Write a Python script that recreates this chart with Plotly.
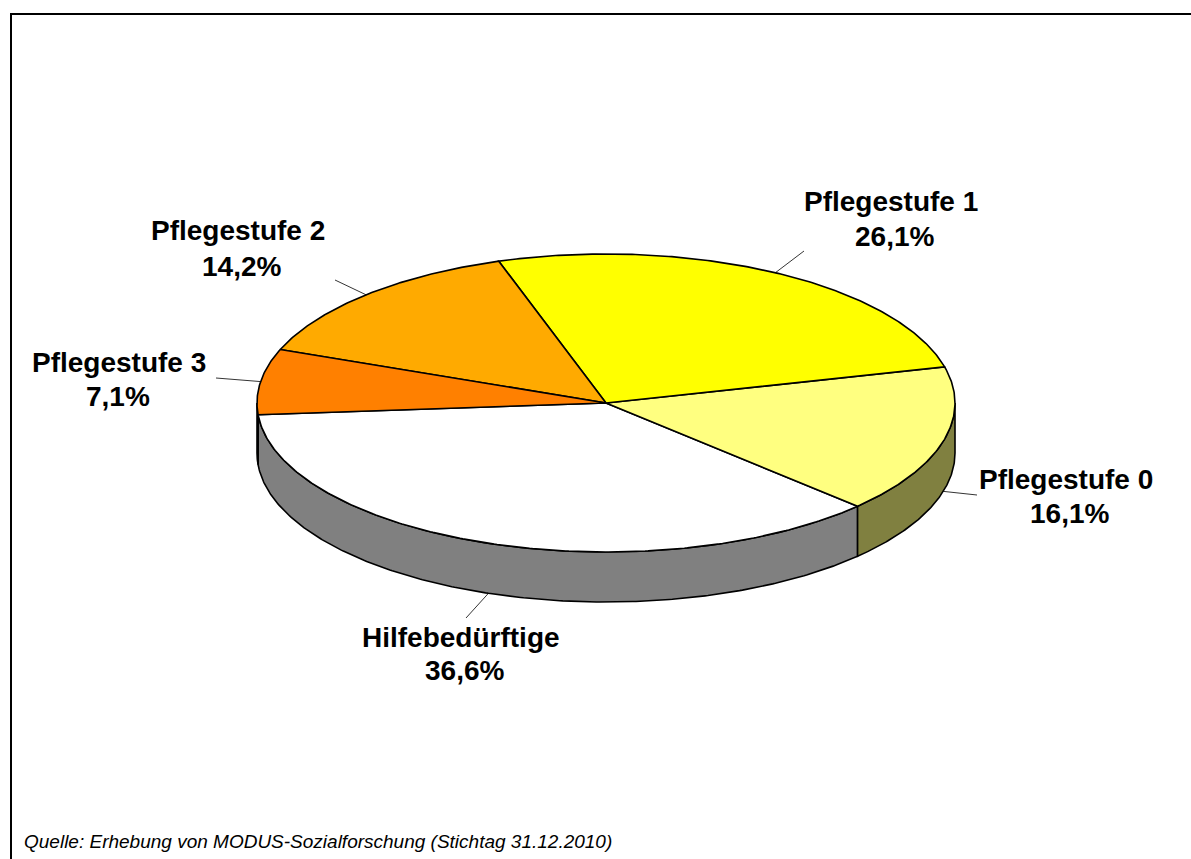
import numpy as np
import plotly.graph_objects as go

# Share of care levels, in the order they run round the pie
categories = ["Hilfebedürftige", "Pflegestufe 0", "Pflegestufe 1", "Pflegestufe 2", "Pflegestufe 3"]
shares = [36.6, 16.1, 26.1, 14.2, 7.1]
top_colors = ["#FFFFFF", "#FFFF80", "#FFFF00", "#FFAA00", "#FF8000"]
wall_colors = ["#808080", "#808040", "#808000", "#805500", "#804000"]
source_note = "Quelle: Erhebung von MODUS-Sozialforschung (Stichtag 31.12.2010)"

# Pie geometry on a pixel-scaled canvas
WIDTH, HEIGHT = 1191, 859
CX, CY, RX, RY, DEPTH = 606, 403, 349, 149, 50
START_DEG = 184.5

# Where each label's two text lines sit and where its leader line ends
name_pos = [(461, 637), (1065.5, 479), (890.5, 201), (237.5, 230), (118.5, 362)]
pct_pos = [(464, 670), (1069, 513), (894, 236), (241, 266), (118, 396)]
leader_end = [(466, 618), (977, 495), (804, 251), (335, 280), (216, 378)]


def rim(deg, drop=0.0):
    t = np.radians(deg)
    return CX + RX * np.cos(t), CY - RY * np.sin(t) + drop


def arc(a, b, drop=0.0):
    n = max(int(abs(b - a) * 2), 2)
    return rim(np.linspace(a, b, n), drop)


fractions = np.array(shares) / sum(shares)
edges = START_DEG + np.concatenate([[0], np.cumsum(fractions)]) * 360.0

fig = go.Figure()


def polygon(xs, ys, color):
    fig.add_trace(go.Scatter(
        x=xs, y=ys, mode="lines", fill="toself", fillcolor=color,
        line=dict(color="black", width=1.6), hoverinfo="skip", showlegend=False,
    ))


# Outer wall: only the part of each slice facing the viewer (180..360 degrees)
for i in range(len(shares)):
    for offset in (0, 360):
        a = max(edges[i], 180 + offset)
        b = min(edges[i + 1], 360 + offset)
        if b > a:
            tx, ty = arc(a, b)
            bx, by = arc(b, a, DEPTH)
            polygon(np.r_[tx, bx, tx[0]], np.r_[ty, by, ty[0]], wall_colors[i])

# Top face
for i in range(len(shares)):
    ax, ay = arc(edges[i], edges[i + 1])
    polygon(np.r_[CX, ax, CX], np.r_[CY, ay, CY], top_colors[i])

# Leader lines from the middle of each slice's outer edge
for i, end in enumerate(leader_end):
    mid = (edges[i] + edges[i + 1]) / 2
    front = np.sin(np.radians(mid)) < 0
    x0, y0 = rim(mid, DEPTH if front else 0)
    fig.add_trace(go.Scatter(
        x=[x0, end[0]], y=[y0, end[1]], mode="lines",
        line=dict(color="black", width=0.8), hoverinfo="skip", showlegend=False,
    ))

annotations = []
label_font = dict(family="Liberation Sans", size=28, color="black")
for name, share, np_, pp in zip(categories, shares, name_pos, pct_pos):
    pct = f"{share:.1f}".replace(".", ",") + "%"
    for text, (x, y) in ((name, np_), (pct, pp)):
        annotations.append(dict(
            x=x, y=y, xref="x", yref="y", text=f"<b>{text}</b>", showarrow=False,
            xanchor="center", yanchor="middle", font=label_font,
        ))
annotations.append(dict(
    x=22, y=841, xref="x", yref="y", text=f"<i>{source_note}</i>", showarrow=False,
    xanchor="left", yanchor="middle",
    font=dict(family="Liberation Sans", size=19, color="black"),
))

# Frame along the top and left edges
shapes = [
    dict(type="line", xref="x", yref="y", x0=10, y0=14, x1=WIDTH, y1=14, line=dict(color="black", width=2)),
    dict(type="line", xref="x", yref="y", x0=11, y0=13, x1=11, y1=HEIGHT, line=dict(color="black", width=2)),
]

fig.update_layout(
    width=WIDTH, height=HEIGHT, margin=dict(l=0, r=0, t=0, b=0),
    paper_bgcolor="white", plot_bgcolor="white",
    xaxis=dict(range=[0, WIDTH], visible=False, fixedrange=True),
    yaxis=dict(range=[HEIGHT, 0], visible=False, fixedrange=True),
    annotations=annotations, shapes=shapes,
)
fig.write_html("out.html", config={"displayModeBar": False})
